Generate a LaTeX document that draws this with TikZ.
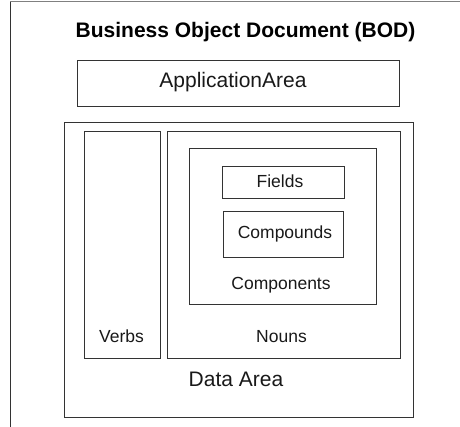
\documentclass[tikz,border=0pt]{standalone}
\usepackage{fontspec}
\setmainfont{Liberation Sans}
\begin{document}
\begin{tikzpicture}[x=1pt,y=-1pt,
  box/.style={draw=black!80, line width=0.9pt, anchor=north west, inner sep=0pt},
  lbl/.style={anchor=base, inner sep=0pt, font=\fontsize{17.5}{20}\selectfont, text=black!90},
  biglbl/.style={anchor=base, inner sep=0pt, font=\fontsize{21}{24}\selectfont, text=black!90}]
\useasboundingbox (0,0) rectangle (460,427);
% cropped outer frame
\coordinate (fbl) at (10,427);
\coordinate (ftl) at (10,2);
\coordinate (ftr) at (460,2);
\draw[black!80, line width=1pt] (fbl) -- (ftl);
\draw[black!50, line width=1pt] (ftl) -- (ftr);
% title
\node[anchor=base, inner sep=0pt, font=\bfseries\fontsize{21}{24}\selectfont] (title) at (245.5,38) {Business Object Document (BOD)};
% application area
\node[box, minimum width=322pt, minimum height=46pt] (app) at (77,60) {};
\node[biglbl] (applbl) at (233,88) {ApplicationArea};
% data area
\node[box, minimum width=349pt, minimum height=295pt] (data) at (64,122) {};
\node[biglbl] (datalbl) at (236,386) {Data Area};
% verbs
\node[box, minimum width=76pt, minimum height=227pt] (verbs) at (84,131) {};
\node[lbl] (verbslbl) at (121.5,342) {Verbs};
% nouns
\node[box, minimum width=233pt, minimum height=227pt] (nouns) at (167,131) {};
\node[lbl] (nounslbl) at (281.5,342) {Nouns};
% components
\node[box, minimum width=187pt, minimum height=156pt] (comp) at (189,148) {};
\node[lbl] (complbl) at (281,290) {Components};
% fields
\node[box, minimum width=122pt, minimum height=32pt] (fields) at (222,166) {};
\node[lbl] (fieldslbl) at (280,188) {Fields};
% compounds
\node[box, minimum width=120pt, minimum height=46pt] (cmpd) at (223,211) {};
\node[lbl] (cmpdlbl) at (285,239) {Compounds};
\end{tikzpicture}
\end{document}
